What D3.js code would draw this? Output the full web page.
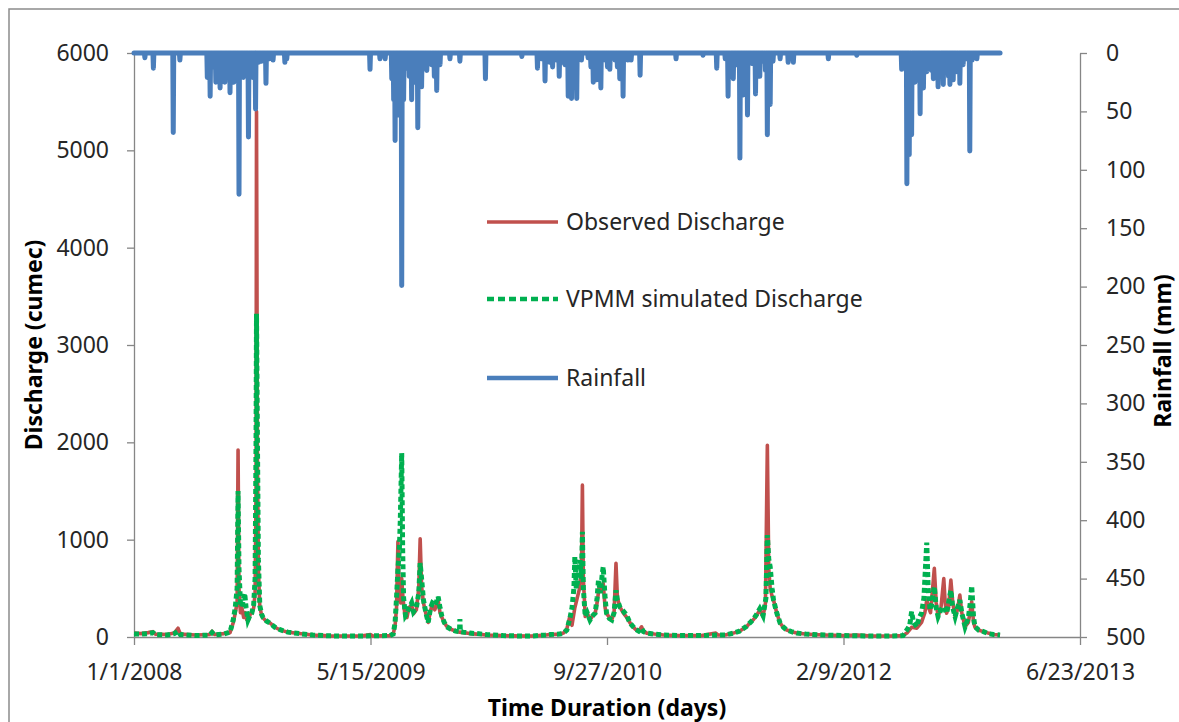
<!DOCTYPE html>
<html>
<head>
<meta charset="utf-8">
<script src="https://d3js.org/d3.v7.min.js"></script>
<style>
    html, body { margin: 0; padding: 0; background: #fff; }
    svg { display: block; font-family: "Noto Sans", "Open Sans", sans-serif; }
</style>
</head>
<body>
<svg id="chart" width="1179" height="722"></svg>
<script>
// ---------------- data (days counted from 1/1/2008) ----------------
const startDate = Date.UTC(2008, 0, 1);
const lastDay = 1831;

const xTickLabels = ["1/1/2008", "5/15/2009", "9/27/2010", "2/9/2012", "6/23/2013"];
const qTicks = [0, 1000, 2000, 3000, 4000, 5000, 6000];
const rainTicks = [0, 50, 100, 150, 200, 250, 300, 350, 400, 450, 500];
const legendNames = ["Observed Discharge", "VPMM simulated Discharge", "Rainfall"];

// rainfall (mm) on rainy days, [day, mm]; all other days are dry
const rainfall = [
    [23, 4], [41, 13], [83, 68], [97, 6], [155, 21], [161, 37], [167, 12], [173, 25], [182, 30], [188, 15],
    [192, 25], [197, 10], [203, 34], [207, 18], [211, 25], [216, 12], [222, 121], [226, 15], [231, 21], [236, 10],
    [242, 72], [246, 18], [251, 21], [257, 48], [263, 8], [270, 7], [279, 26], [286, 5], [294, 6], [319, 8], [323, 5],
    [499, 14], [520, 5], [531, 5], [545, 22], [549, 40], [552, 75], [556, 30], [559, 53], [566, 199], [570, 40],
    [576, 13], [582, 20], [587, 40], [593, 25], [600, 64], [604, 18], [608, 29], [614, 8], [619, 15], [624, 6],
    [629, 10], [635, 20], [640, 32], [647, 10], [668, 5], [689, 7], [743, 22], [820, 3],
    [853, 13], [861, 5], [869, 24], [879, 8], [885, 12], [893, 6], [899, 20], [905, 8], [911, 10], [918, 37],
    [925, 39], [931, 15], [936, 39], [946, 6], [960, 4], [966, 12], [971, 25], [978, 23], [983, 10], [987, 30],
    [996, 6], [1001, 12], [1006, 14], [1017, 6], [1022, 12], [1027, 22], [1034, 37], [1044, 6], [1051, 6], [1070, 19],
    [1146, 5], [1203, 2],
    [1232, 13], [1250, 5], [1256, 37], [1261, 12], [1267, 22], [1274, 10], [1281, 90], [1288, 36], [1293, 15], [1297, 53],
    [1306, 9], [1314, 35], [1318, 12], [1323, 20], [1330, 7], [1335, 15], [1339, 70], [1345, 44], [1351, 7], [1366, 5],
    [1383, 8], [1394, 8], [1468, 5], [1528, 2],
    [1623, 14], [1628, 8], [1634, 112], [1637, 60], [1639, 87], [1642, 40], [1644, 70], [1648, 15], [1651, 25], [1656, 10],
    [1662, 52], [1666, 12], [1669, 30], [1673, 10], [1676, 16], [1683, 8], [1686, 15], [1690, 22], [1695, 12], [1700, 29],
    [1705, 15], [1711, 27], [1716, 12], [1722, 20], [1725, 27], [1729, 10], [1732, 23], [1736, 12], [1739, 16], [1743, 8],
    [1746, 26], [1750, 10], [1753, 10], [1760, 5], [1767, 84], [1772, 6], [1782, 5]
];

// observed discharge (cumec), [day, value]
const observedQ = [
    [0, 40], [15, 35], [30, 45], [40, 55], [45, 30], [70, 25], [85, 40], [93, 90], [98, 30], [130, 20], [160, 25], [165, 60],
    [170, 25], [190, 35], [203, 45], [210, 150], [214, 245], [218, 350], [220, 1920], [222, 500], [225, 250], [228, 300],
    [232, 200], [235, 250], [238, 180], [242, 175], [246, 240], [249, 245], [253, 300], [256, 450], [258, 1500], [259, 5400],
    [261, 1800], [263, 700], [266, 310], [270, 220], [273, 195], [280, 160], [288, 143], [298, 100], [309, 72], [325, 50],
    [344, 38], [378, 20], [414, 12], [450, 10], [480, 10], [500, 25], [505, 10], [541, 15],
    [548, 30], [552, 120], [555, 300], [558, 980], [561, 400], [564, 350], [566, 600], [569, 380], [573, 220], [577, 200],
    [581, 300], [587, 330], [591, 240], [597, 280], [602, 500], [605, 1010], [608, 520], [612, 350], [617, 240], [622, 150],
    [626, 250], [630, 330], [636, 280], [643, 380], [647, 250], [651, 200], [656, 150], [661, 110], [670, 80], [680, 60],
    [689, 50], [696, 45], [710, 35], [725, 30], [745, 20], [780, 15], [800, 12], [840, 10], [870, 20],
    [880, 25], [900, 30], [908, 40], [915, 80], [922, 225], [926, 120], [932, 300], [937, 400], [942, 500], [946, 700],
    [948, 1560], [950, 600], [954, 210], [958, 250], [964, 175], [970, 220], [975, 245], [979, 350], [983, 500], [988, 480],
    [992, 550], [996, 300], [999, 245], [1005, 200], [1010, 175], [1015, 250], [1019, 756], [1022, 400], [1027, 311],
    [1034, 250], [1042, 200], [1048, 150], [1052, 123], [1060, 80], [1067, 60], [1073, 105], [1077, 60], [1084, 40],
    [1100, 30], [1120, 20], [1150, 15], [1200, 15], [1230, 40], [1235, 20],
    [1250, 20], [1267, 40], [1280, 60], [1295, 105], [1303, 150], [1309, 175], [1316, 220], [1323, 277], [1330, 210],
    [1335, 350], [1339, 1970], [1342, 700], [1345, 500], [1349, 420], [1352, 380], [1359, 245], [1366, 143], [1373, 100],
    [1380, 72], [1390, 55], [1401, 40], [1420, 30], [1436, 25], [1460, 20], [1500, 15], [1530, 20], [1560, 10], [1600, 10],
    [1626, 15], [1634, 40], [1644, 100], [1655, 90], [1665, 150], [1672, 250], [1676, 380], [1680, 300], [1684, 250],
    [1692, 705], [1696, 350], [1700, 210], [1706, 300], [1712, 600], [1715, 350], [1718, 245], [1722, 300], [1727, 585],
    [1731, 350], [1736, 210], [1741, 280], [1746, 430], [1750, 250], [1757, 105], [1764, 150], [1771, 362], [1775, 150],
    [1778, 100], [1786, 70], [1796, 55], [1806, 40], [1817, 25], [1831, 20]
];

// VPMM simulated discharge (cumec), [day, value]
const simulatedQ = [
    [0, 30], [15, 30], [30, 35], [40, 45], [45, 25], [70, 20], [85, 35], [93, 60], [98, 25], [130, 15], [160, 20], [165, 45],
    [170, 20], [190, 30], [203, 50], [210, 180], [214, 300], [218, 500], [220, 1500], [222, 700], [225, 350], [228, 310],
    [231, 380], [234, 450], [237, 300], [241, 175], [245, 220], [249, 245], [253, 330], [256, 600], [258, 2000], [259, 3320],
    [261, 2000], [263, 800], [266, 320], [270, 230], [273, 200], [280, 165], [288, 140], [298, 100], [309, 75], [325, 50],
    [344, 38], [378, 20], [414, 12], [450, 10], [480, 10], [541, 15],
    [548, 30], [552, 150], [555, 400], [558, 700], [561, 900], [563, 1200], [566, 1890], [568, 900], [570, 400], [574, 220],
    [578, 250], [582, 300], [587, 350], [591, 260], [597, 300], [602, 450], [605, 760], [608, 600], [612, 380], [617, 250],
    [622, 150], [627, 300], [631, 350], [637, 330], [643, 414], [647, 300], [651, 210], [656, 150], [661, 105], [670, 80],
    [680, 60], [688, 55], [689, 185], [690, 55], [696, 50], [710, 40], [725, 35], [745, 25], [780, 15], [800, 12], [840, 10],
    [870, 20],
    [880, 25], [900, 30], [908, 40], [915, 70], [922, 200], [926, 300], [930, 500], [932, 825], [935, 500], [939, 600],
    [943, 790], [946, 600], [948, 1080], [950, 500], [954, 210], [958, 250], [964, 175], [970, 220], [975, 245], [979, 400],
    [982, 585], [986, 450], [990, 650], [992, 720], [996, 400], [999, 245], [1005, 190], [1010, 175], [1015, 250],
    [1019, 480], [1022, 380], [1027, 311], [1034, 270], [1042, 220], [1048, 150], [1052, 123], [1060, 80], [1067, 60],
    [1073, 90], [1077, 55], [1084, 40], [1100, 30], [1120, 20], [1150, 15], [1200, 15], [1235, 20],
    [1250, 20], [1267, 40], [1280, 60], [1295, 110], [1303, 150], [1309, 180], [1316, 230], [1323, 290], [1330, 220],
    [1336, 400], [1339, 1047], [1342, 800], [1345, 720], [1349, 500], [1352, 380], [1359, 245], [1366, 143], [1373, 100],
    [1380, 72], [1390, 55], [1401, 40], [1420, 30], [1436, 25], [1460, 20], [1500, 15], [1560, 10], [1600, 10],
    [1626, 15], [1634, 72], [1640, 120], [1644, 260], [1648, 150], [1655, 105], [1660, 200], [1665, 245], [1670, 400],
    [1676, 970], [1679, 500], [1683, 277], [1687, 350], [1692, 516], [1696, 300], [1700, 210], [1706, 280], [1712, 311],
    [1718, 245], [1722, 350], [1727, 480], [1731, 300], [1736, 210], [1741, 300], [1746, 380], [1750, 250], [1757, 105],
    [1764, 200], [1768, 350], [1771, 525], [1775, 200], [1778, 105], [1786, 70], [1796, 55], [1806, 35], [1817, 25],
    [1831, 20]
];

// ---------------- layout ----------------
const svg = d3.select("#chart");
const plot = { left: 134, right: 1080, top: 53, bottom: 637 };
const axisColor = "#868686";
const textColor = "#262626";
const colors = { obs: "#C0504D", sim: "#00B050", rain: "#4A7EBB" };

const dayToDate = d => new Date(startDate + d * 86400000);
const xTickDates = xTickLabels.map(s => {
    const [m, d, y] = s.split("/").map(Number);
    return new Date(Date.UTC(y, m - 1, d));
});

const x = d3.scaleUtc()
    .domain([xTickDates[0], xTickDates[xTickDates.length - 1]])
    .range([plot.left, plot.right]);
const yQ = d3.scaleLinear().domain([0, 6000]).range([plot.bottom, plot.top]);
const yR = d3.scaleLinear().domain([0, 500]).range([plot.top, plot.bottom]); // inverted

// outer chart border
svg.append("rect")
    .attr("x", 9).attr("y", 9)
    .attr("width", 1200).attr("height", 760)
    .attr("fill", "none")
    .attr("stroke", "#8c8c8c")
    .attr("stroke-width", 1.5);

// ---------------- axes ----------------
function styleAxis(g) {
    g.select(".domain").attr("stroke", axisColor).attr("stroke-width", 1.3);
    g.selectAll(".tick line").attr("stroke", axisColor).attr("stroke-width", 1.3);
    g.selectAll(".tick text")
        .attr("fill", textColor)
        .style("font-size", "23px")
        .style("font-family", '"Noto Sans", "Open Sans", sans-serif');
}

svg.append("g")
    .attr("transform", `translate(${plot.left},0)`)
    .call(d3.axisLeft(yQ).tickValues(qTicks).tickFormat(d3.format("d"))
        .tickSize(7).tickSizeOuter(0).tickPadding(18))
    .call(styleAxis);

svg.append("g")
    .attr("transform", `translate(${plot.right},0)`)
    .call(d3.axisRight(yR).tickValues(rainTicks).tickFormat(d3.format("d"))
        .tickSize(7).tickSizeOuter(0).tickPadding(19))
    .call(styleAxis);

svg.append("g")
    .attr("transform", `translate(0,${plot.bottom})`)
    .call(d3.axisBottom(x).tickValues(xTickDates).tickSize(8).tickSizeOuter(0).tickPadding(19)
        .tickFormat((d, i) => xTickLabels[i]))
    .call(styleAxis);

// ---------------- series ----------------
// daily rainfall: days not listed had no rain
const rainByDay = new Map(rainfall);
const rainDaily = d3.range(0, lastDay + 1).map(d => [d, rainByDay.get(d) || 0]);

const rainLine = d3.line().x(d => x(dayToDate(d[0]))).y(d => yR(d[1]));
const qLine = d3.line().x(d => x(dayToDate(d[0]))).y(d => yQ(d[1]));

svg.append("path")
    .datum(observedQ)
    .attr("d", qLine)
    .attr("fill", "none")
    .attr("stroke", colors.obs)
    .attr("stroke-width", 3.6)
    .attr("stroke-linejoin", "round");

svg.append("path")
    .datum(simulatedQ)
    .attr("d", qLine)
    .attr("fill", "none")
    .attr("stroke", colors.sim)
    .attr("stroke-width", 5)
    .attr("stroke-dasharray", "5,3");

svg.append("path")
    .datum(rainDaily)
    .attr("d", rainLine)
    .attr("fill", "none")
    .attr("stroke", colors.rain)
    .attr("stroke-width", 5)
    .attr("stroke-linejoin", "round")
    .attr("stroke-linecap", "round");

// ---------------- legend ----------------
const legendY = [222, 299, 378];
const legendStyle = [
    { color: colors.obs, width: 3.4, dash: null },
    { color: colors.sim, width: 4.5, dash: "7,4" },
    { color: colors.rain, width: 4.5, dash: null }
];
legendNames.forEach((name, i) => {
    svg.append("line")
        .attr("x1", 487).attr("x2", 558)
        .attr("y1", legendY[i]).attr("y2", legendY[i])
        .attr("stroke", legendStyle[i].color)
        .attr("stroke-width", legendStyle[i].width)
        .attr("stroke-dasharray", legendStyle[i].dash);
    svg.append("text")
        .attr("x", 566).attr("y", legendY[i])
        .attr("dy", "0.35em")
        .attr("fill", textColor)
        .style("font-size", "23px")
        .text(name);
});

// ---------------- axis titles ----------------
const titleStyle = sel => sel
    .attr("text-anchor", "middle")
    .attr("fill", "#000")
    .style("font-size", "23px")
    .style("font-weight", "bold");

svg.append("text")
    .attr("transform", "translate(42,345) rotate(-90)")
    .call(titleStyle)
    .text("Discharge (cumec)");

svg.append("text")
    .attr("transform", "translate(1171,351) rotate(-90)")
    .call(titleStyle)
    .text("Rainfall (mm)");

svg.append("text")
    .attr("x", 607).attr("y", 716)
    .call(titleStyle)
    .text("Time Duration (days)");
</script>
</body>
</html>
